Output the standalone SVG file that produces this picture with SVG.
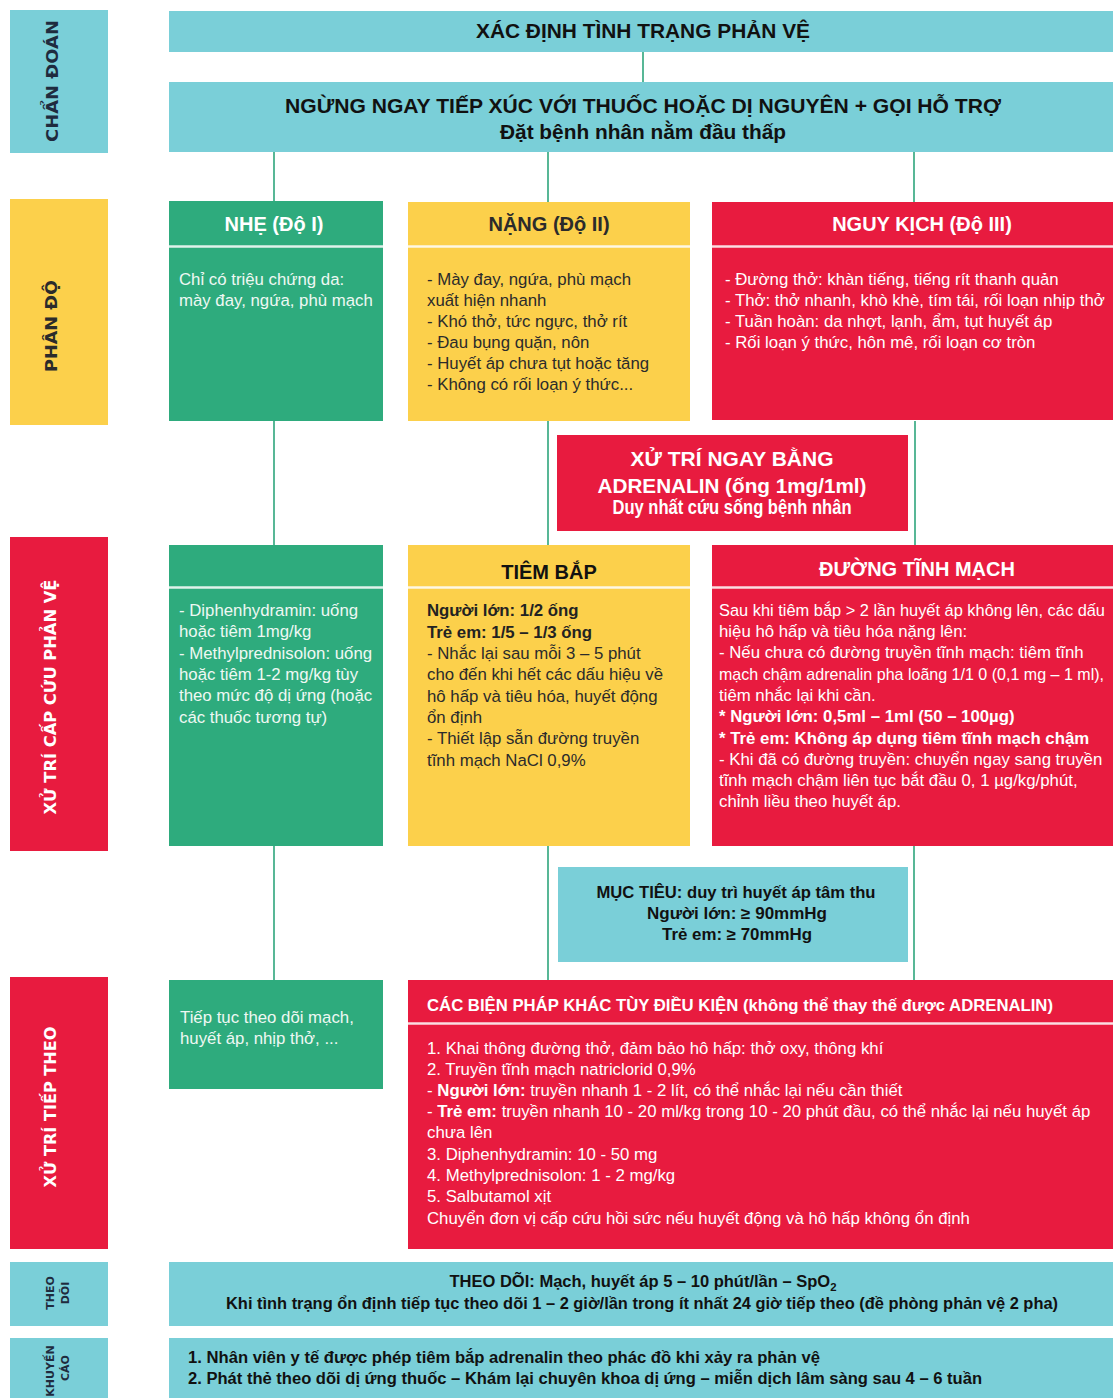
<svg xmlns="http://www.w3.org/2000/svg" width="1113" height="1398" viewBox="0 0 1113 1398">
<style>
.teal{fill:#7acfd8}
.green{fill:#2eab7d}
.yellow{fill:#fcd04b}
.red{fill:#e81b3f}
.sep{stroke:#ffffff;stroke-width:2.5;opacity:0.85}
.conn{stroke:#2ea57c;stroke-width:1.6;fill:none}
text{font-family:"Liberation Sans",Arial,sans-serif}
.lab{font-family:"DejaVu Sans",Verdana,sans-serif;font-weight:bold;font-size:15px;text-anchor:middle}
.labs{font-family:"DejaVu Sans",Verdana,sans-serif;font-weight:bold;font-size:11px;text-anchor:middle;fill:#1f2b3e}
.hd{font-weight:bold;font-size:20px;text-anchor:middle}
.body{font-size:16.8px}
.w{fill:#ffffff}
.wg{fill:#eef8f3}
.dk{fill:#2b2b2b}
.bk{fill:#111111}
.b{font-weight:bold}
</style>

<!-- left labels -->
<g id="label-chan-doan"><rect class="teal" x="10" y="10" width="98" height="143"/><text class="lab" fill="#1f2b3e" font-size="16.5" transform="translate(58,81) rotate(-90)" textLength="122" lengthAdjust="spacingAndGlyphs">CHẨN ĐOÁN</text></g>
<g id="label-phan-do"><rect class="yellow" x="10" y="199" width="98" height="226"/><text class="lab" fill="#2b2b2b" font-size="16.5" transform="translate(57,326) rotate(-90)" textLength="92" lengthAdjust="spacingAndGlyphs">PHÂN ĐỘ</text></g>
<g id="label-xu-tri-cap-cuu"><rect class="red" x="10" y="537" width="98" height="314"/><text class="lab w" transform="translate(56,697) rotate(-90)" textLength="235" lengthAdjust="spacingAndGlyphs">XỬ TRÍ CẤP CỨU PHẢN VỆ</text></g>
<g id="label-xu-tri-tiep-theo"><rect class="red" x="10" y="977" width="98" height="272"/><text class="lab w" transform="translate(56,1107) rotate(-90)" textLength="161" lengthAdjust="spacingAndGlyphs">XỬ TRÍ TIẾP THEO</text></g>
<g id="label-theo-doi"><rect class="teal" x="10" y="1262" width="98" height="64"/><text class="labs" transform="translate(54,1293) rotate(-90)">THEO</text><text class="labs" transform="translate(69,1293) rotate(-90)">DÕI</text></g>
<g id="label-khuyen-cao"><rect class="teal" x="10" y="1338" width="98" height="70"/><text class="labs" transform="translate(54,1371) rotate(-90)">KHUYẾN</text><text class="labs" transform="translate(69,1368) rotate(-90)">CÁO</text></g>

<!-- connectors -->
<g id="connectors">
<line class="conn" x1="643" y1="52" x2="643" y2="82"/>
<line class="conn" x1="274" y1="152" x2="274" y2="201"/>
<line class="conn" x1="548" y1="152" x2="548" y2="202"/>
<line class="conn" x1="914" y1="152" x2="914" y2="202"/>
<line class="conn" x1="274" y1="421" x2="274" y2="545"/>
<line class="conn" x1="548" y1="421" x2="548" y2="545"/>
<line class="conn" x1="915" y1="421" x2="915" y2="545"/>
<line class="conn" x1="274" y1="846" x2="274" y2="980"/>
<line class="conn" x1="548" y1="846" x2="548" y2="980"/>
<line class="conn" x1="914" y1="846" x2="914" y2="980"/>
</g>

<g id="node-xac-dinh"><rect class="teal" x="169" y="11" width="944" height="41"/><text class="hd bk" x="643" y="38" textLength="334" lengthAdjust="spacingAndGlyphs">XÁC ĐỊNH TÌNH TRẠNG PHẢN VỆ</text></g>

<g id="node-ngung-ngay"><rect class="teal" x="169" y="82" width="944" height="70"/>
<text class="hd bk" x="643" y="113" textLength="716" lengthAdjust="spacingAndGlyphs">NGỪNG NGAY TIẾP XÚC VỚI THUỐC HOẶC DỊ NGUYÊN + GỌI HỖ TRỢ</text>
<text class="hd bk" x="643" y="139" font-size="19" textLength="286" lengthAdjust="spacingAndGlyphs">Đặt bệnh nhân nằm đầu thấp</text></g>

<g id="node-nhe"><rect class="green" x="169" y="201" width="214" height="220"/><line class="sep" x1="169" y1="246.5" x2="383" y2="246.5"/>
<text class="hd w" x="274" y="231">NHẸ (Độ I)</text>
<text class="body wg" x="179" y="285">Chỉ có triệu chứng da:</text>
<text class="body wg" x="179" y="306">mày đay, ngứa, phù mạch</text></g>

<g id="node-nang"><rect class="yellow" x="408" y="202" width="282" height="219"/><line class="sep" x1="408" y1="246.5" x2="690" y2="246.5"/>
<text class="hd dk" x="549" y="231" fill="#222">NẶNG (Độ II)</text>
<g class="body dk">
<text x="427" y="285">- Mày đay, ngứa, phù mạch</text>
<text x="427" y="306">xuất hiện nhanh</text>
<text x="427" y="327">- Khó thở, tức ngực, thở rít</text>
<text x="427" y="348">- Đau bụng quặn, nôn</text>
<text x="427" y="369">- Huyết áp chưa tụt hoặc tăng</text>
<text x="427" y="390">- Không có rối loạn ý thức...</text>
</g></g>

<g id="node-nguy-kich"><rect class="red" x="712" y="202" width="401" height="218"/><line class="sep" x1="712" y1="246.5" x2="1113" y2="246.5"/>
<text class="hd w" x="922" y="231">NGUY KỊCH (Độ III)</text>
<g class="body w">
<text x="725" y="285">- Đường thở: khàn tiếng, tiếng rít thanh quản</text>
<text x="725" y="306">- Thở: thở nhanh, khò khè, tím tái, rối loạn nhịp thở</text>
<text x="725" y="327">- Tuần hoàn: da nhợt, lạnh, ẩm, tụt huyết áp</text>
<text x="725" y="348">- Rối loạn ý thức, hôn mê, rối loạn cơ tròn</text>
</g></g>

<g id="node-adrenalin"><rect class="red" x="557" y="435" width="351" height="96"/>
<text class="hd w" x="732" y="466" textLength="203" lengthAdjust="spacingAndGlyphs">XỬ TRÍ NGAY BẰNG</text>
<text class="hd w" x="732" y="493" textLength="269" lengthAdjust="spacingAndGlyphs">ADRENALIN (ống 1mg/1ml)</text>
<text class="hd w" x="732" y="514" font-size="16" textLength="239" lengthAdjust="spacingAndGlyphs">Duy nhất cứu sống bệnh nhân</text></g>

<g id="node-khang-histamin"><rect class="green" x="169" y="545" width="214" height="301"/><line class="sep" x1="169" y1="587.5" x2="383" y2="587.5"/>
<g class="body wg">
<text x="179" y="616">- Diphenhydramin: uống</text>
<text x="179" y="637">hoặc tiêm 1mg/kg</text>
<text x="179" y="659">- Methylprednisolon: uống</text>
<text x="179" y="680">hoặc tiêm 1-2 mg/kg tùy</text>
<text x="179" y="701">theo mức độ dị ứng (hoặc</text>
<text x="179" y="723">các thuốc tương tự)</text>
</g></g>

<g id="node-tiem-bap"><rect class="yellow" x="408" y="545" width="282" height="301"/><line class="sep" x1="408" y1="587.5" x2="690" y2="587.5"/>
<text class="hd" x="549" y="579" fill="#111">TIÊM BẮP</text>
<g class="body dk">
<text x="427" y="616" class="b" fill="#222">Người lớn: 1/2 ống</text>
<text x="427" y="638" class="b" fill="#222">Trẻ em: 1/5 – 1/3 ống</text>
<text x="427" y="659">- Nhắc lại sau mỗi 3 – 5 phút</text>
<text x="427" y="680">cho đến khi hết các dấu hiệu về</text>
<text x="427" y="702">hô hấp và tiêu hóa, huyết động</text>
<text x="427" y="723">ổn định</text>
<text x="427" y="744">- Thiết lập sẵn đường truyền</text>
<text x="427" y="766">tĩnh mạch NaCl 0,9%</text>
</g></g>

<g id="node-tinh-mach"><rect class="red" x="712" y="545" width="401" height="301"/><line class="sep" x1="712" y1="587.5" x2="1113" y2="587.5"/>
<text class="hd w" x="917" y="576">ĐƯỜNG TĨNH MẠCH</text>
<g class="body w">
<text x="719" y="616" textLength="386" lengthAdjust="spacingAndGlyphs">Sau khi tiêm bắp &gt; 2 lần huyết áp không lên, các dấu</text>
<text x="719" y="637">hiệu hô hấp và tiêu hóa nặng lên:</text>
<text x="719" y="658">- Nếu chưa có đường truyền tĩnh mạch: tiêm tĩnh</text>
<text x="719" y="680" font-size="16.1" textLength="385" lengthAdjust="spacingAndGlyphs">mạch chậm adrenalin pha loãng 1/1 0 (0,1 mg – 1 ml),</text>
<text x="719" y="701">tiêm nhắc lại khi cần.</text>
<text x="719" y="722" class="b">* Người lớn: 0,5ml – 1ml (50 – 100µg)</text>
<text x="719" y="744" class="b">* Trẻ em: Không áp dụng tiêm tĩnh mạch chậm</text>
<text x="719" y="765">- Khi đã có đường truyền: chuyển ngay sang truyền</text>
<text x="719" y="786">tĩnh mạch chậm liên tục bắt đầu 0, 1 µg/kg/phút,</text>
<text x="719" y="807">chỉnh liều theo huyết áp.</text>
</g></g>

<g id="node-muc-tieu"><rect class="teal" x="558" y="867" width="350" height="95"/>
<text class="bk b" x="736" y="898" font-size="16" text-anchor="middle" textLength="279" lengthAdjust="spacingAndGlyphs">MỤC TIÊU: duy trì huyết áp tâm thu</text>
<text class="bk b" x="737" y="919" font-size="16" text-anchor="middle" textLength="180" lengthAdjust="spacingAndGlyphs">Người lớn: ≥ 90mmHg</text>
<text class="bk b" x="737" y="940" font-size="16" text-anchor="middle" textLength="150" lengthAdjust="spacingAndGlyphs">Trẻ em: ≥ 70mmHg</text></g>

<g id="node-tiep-tuc"><rect class="green" x="169" y="980" width="214" height="109"/>
<text class="body wg" x="180" y="1023">Tiếp tục theo dõi mạch,</text>
<text class="body wg" x="180" y="1044">huyết áp, nhịp thở, ...</text></g>

<g id="node-bien-phap"><rect class="red" x="408" y="980" width="705" height="269"/><line class="sep" x1="408" y1="1023.5" x2="1113" y2="1023.5"/>
<text class="w b" x="427" y="1011" font-size="16.5" textLength="626" lengthAdjust="spacingAndGlyphs">CÁC BIỆN PHÁP KHÁC TÙY ĐIỀU KIỆN (không thể thay thế được ADRENALIN)</text>
<g class="body w">
<text x="427" y="1054">1. Khai thông đường thở, đảm bảo hô hấp: thở oxy, thông khí</text>
<text x="427" y="1075">2. Truyền tĩnh mạch natriclorid 0,9%</text>
<text x="427" y="1096">- <tspan class="b">Người lớn:</tspan> truyền nhanh 1 - 2 lít, có thể nhắc lại nếu cần thiết</text>
<text x="427" y="1117">- <tspan class="b">Trẻ em:</tspan> truyền nhanh 10 - 20 ml/kg trong 10 - 20 phút đầu, có thể nhắc lại nếu huyết áp</text>
<text x="427" y="1138">chưa lên</text>
<text x="427" y="1160">3. Diphenhydramin: 10 - 50 mg</text>
<text x="427" y="1181">4. Methylprednisolon: 1 - 2 mg/kg</text>
<text x="427" y="1202">5. Salbutamol xịt</text>
<text x="427" y="1224">Chuyển đơn vị cấp cứu hồi sức nếu huyết động và hô hấp không ổn định</text>
</g></g>

<g id="node-theo-doi"><rect class="teal" x="169" y="1262" width="944" height="64"/>
<text class="bk b" x="643" y="1287" font-size="16" text-anchor="middle" textLength="387" lengthAdjust="spacingAndGlyphs">THEO DÕI: Mạch, huyết áp 5 – 10 phút/lần – SpO<tspan font-size="11" dy="4">2</tspan></text>
<text class="bk b" x="642" y="1309" font-size="16" text-anchor="middle" textLength="832" lengthAdjust="spacingAndGlyphs">Khi tình trạng ổn định tiếp tục theo dõi 1 – 2 giờ/lần trong ít nhất 24 giờ tiếp theo (đề phòng phản vệ 2 pha)</text></g>

<g id="node-khuyen-cao"><rect class="teal" x="169" y="1338" width="944" height="70"/>
<text class="bk b" x="188" y="1363" font-size="16" textLength="632" lengthAdjust="spacingAndGlyphs">1. Nhân viên y tế được phép tiêm bắp adrenalin theo phác đồ khi xảy ra phản vệ</text>
<text class="bk b" x="188" y="1384" font-size="16" textLength="794" lengthAdjust="spacingAndGlyphs">2. Phát thẻ theo dõi dị ứng thuốc – Khám lại chuyên khoa dị ứng – miễn dịch lâm sàng sau 4 – 6 tuần</text></g>
</svg>
